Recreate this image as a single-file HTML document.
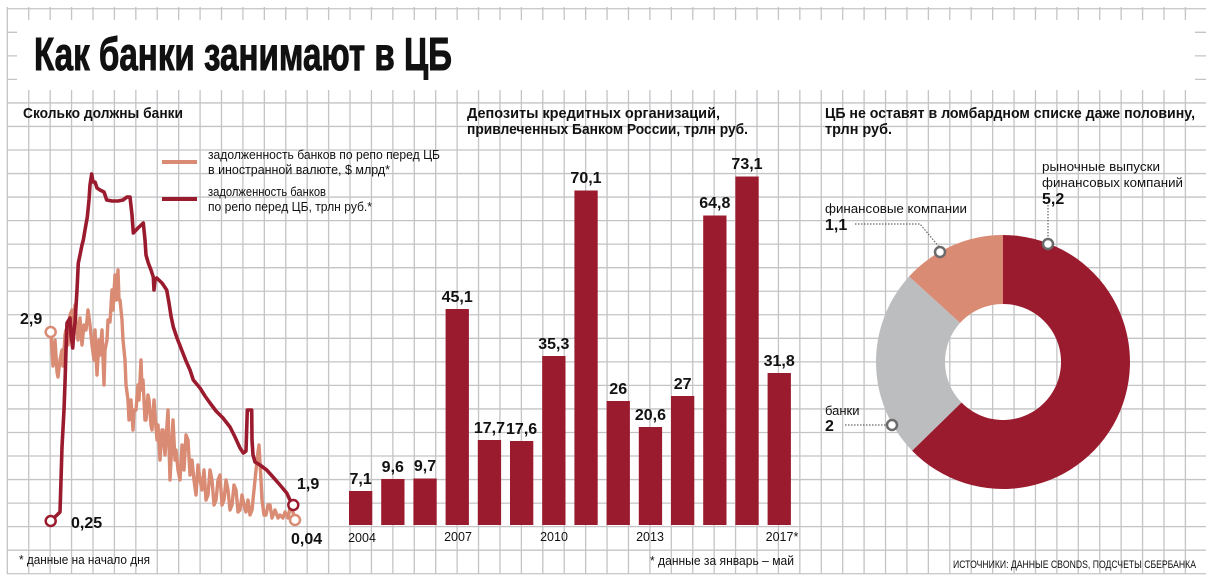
<!DOCTYPE html>
<html><head><meta charset="utf-8"><style>
html,body{margin:0;padding:0;background:#fff;}
svg{display:block;}
text{font-family:"Liberation Sans Narrow","Liberation Sans",sans-serif;fill:#111;}
.b{font-weight:bold;}
</style></head><body>
<svg width="1214" height="584" viewBox="0 0 1214 584" xmlns="http://www.w3.org/2000/svg">
<g stroke="#c4c4c6" stroke-width="1.3" id="grid"></g>
<script>
(function(){
var ns="http://www.w3.org/2000/svg",g=document.getElementById('grid');
for(var k=0;k<=56;k++){var x=7.3+21.42*k;if(x>1206)break;var l=document.createElementNS(ns,'line');l.setAttribute('x1',x);l.setAttribute('x2',x);l.setAttribute('y1',7);l.setAttribute('y2',574);g.appendChild(l);}
for(var k=-6;k<=18;k++){var y=150+23.54*k;if(y<6||y>575)continue;var l=document.createElementNS(ns,'line');l.setAttribute('x1',7);l.setAttribute('x2',1206);l.setAttribute('y1',y);l.setAttribute('y2',y);g.appendChild(l);}
})();
</script>
<rect x="17" y="20" width="1178" height="70" fill="#fff"/>
<text x="34" y="70" class="b" font-size="46" textLength="418" lengthAdjust="spacingAndGlyphs" stroke="#111" stroke-width="1">Как банки занимают в ЦБ</text>

<!-- section titles -->
<text x="23" y="118" class="b" font-size="15" textLength="160" lengthAdjust="spacingAndGlyphs">Сколько должны банки</text>
<text x="467" y="118" class="b" font-size="15" textLength="253" lengthAdjust="spacingAndGlyphs">Депозиты кредитных организаций,</text>
<text x="467" y="134" class="b" font-size="15" textLength="281" lengthAdjust="spacingAndGlyphs">привлеченных Банком России, трлн руб.</text>
<text x="825" y="118" class="b" font-size="15" textLength="370" lengthAdjust="spacingAndGlyphs">ЦБ не оставят в ломбардном списке даже половину,</text>
<text x="825" y="134" class="b" font-size="15" textLength="67" lengthAdjust="spacingAndGlyphs">трлн руб.</text>

<!-- legend -->
<line x1="162" y1="162" x2="197" y2="162" stroke="#d98b74" stroke-width="4"/>
<text x="208" y="159" font-size="12.5" textLength="232" lengthAdjust="spacingAndGlyphs">задолженность банков по репо перед ЦБ</text>
<text x="208" y="174" font-size="12.5" textLength="182" lengthAdjust="spacingAndGlyphs">в иностранной валюте, $ млрд*</text>
<line x1="162" y1="199" x2="197" y2="199" stroke="#9b1b2e" stroke-width="4"/>
<text x="208" y="196" font-size="12.5" textLength="118" lengthAdjust="spacingAndGlyphs">задолженность банков</text>
<text x="208" y="211" font-size="12.5" textLength="164" lengthAdjust="spacingAndGlyphs">по репо перед ЦБ, трлн руб.*</text>

<!-- salmon line -->
<polyline fill="none" stroke="#d98b74" stroke-width="3.4" stroke-linejoin="round" points="50.7,332 52,350 53,366 55,340 57,372 58,377 60,360 62,350 63,366 65,335 66,330 68,345 70,315 72,310 73,330 75,305 76,320 78,340 80,318 82,345 84,325 86,330 88,310 90,325 92,345 94,360 95,330 97,375 99,340 100,355 102,330 104,385 105,350 107,340 108,320 110,322 112,290 113,310 115,275 116,300 118,270 119,300 120,300 122,320 123,340 125,360 126,385 128,400 129,420 131,400 133,430 134,410 136,410 138,385 139,400 141,360 142,390 143,380 145,420 146,420 148,395 149,400 151,425 152,430 154,400 155,415 157,440 158,425 160,460 162,430 163,430 165,455 166,440 168,410 170,480 172,440 173,420 175,460 176,450 178,470 180,480 182,445 184,470 186,435 188,440 190,475 192,460 194,480 196,495 198,465 200,480 202,490 204,470 206,500 208,495 210,470 212,480 214,505 216,500 218,480 220,475 222,505 224,500 226,480 228,490 230,510 232,505 234,485 236,490 238,512 240,510 242,495 244,505 246,512 248,500 250,515 252,510 254,490 256,470 258,452 259,445 261,480 262,500 264,515 266,515 268,505 270,505 272,518 275,510 278,518 280,515 283,518 285,512 288,518 290,508 293,512 295,520"/>
<!-- dark line -->
<polyline fill="none" stroke="#9b1b2e" stroke-width="3.6" stroke-linejoin="round" points="50.7,521 57,515 60,512 61,480 62,447 64,410 65,383 66,350 67,323 70,318 71,335 72.7,348 74,330 75,323 77,290 78.3,263 80,255 82,245 83.3,240 85,230 87.3,217 89,200 90,185 91.7,174 93,182 95,182 97,188 100,190 104,192 106.7,200 112,201 118,201 123,200 127,197 130,197 132,215 133.3,233 138,228 143.3,223 145,240 146,255 148.3,263 151,270 153.3,277 154,290 155,280 156.7,278 162,283 166.7,290 169,303 171,316 173.3,327 177,338 181.7,350 186,361 190,370 193.3,380 200,388 205,396 210,403 216,411 223,418 230,427 235,437 240,448 243.3,453 246,451 247.3,410 250,410 251.7,410 252,440 253,455 255,462 260,465 266.7,470 273,477 280,485 286.7,493 290,500 293.3,505"/>
<circle cx="50.7" cy="521" r="5" fill="#fff" stroke="#9b1b2e" stroke-width="2.5"/>
<circle cx="293.3" cy="505" r="5" fill="#fff" stroke="#9b1b2e" stroke-width="2.5"/>
<circle cx="50.7" cy="332" r="5" fill="#fff" stroke="#d98b74" stroke-width="2.5"/>
<circle cx="295" cy="520" r="5" fill="#fff" stroke="#d98b74" stroke-width="2.5"/>
<text x="20" y="324" class="b" font-size="16">2,9</text>
<text x="71" y="528" class="b" font-size="16">0,25</text>
<text x="297" y="489" class="b" font-size="16">1,9</text>
<text x="291" y="544" class="b" font-size="16">0,04</text>
<text x="19" y="564" font-size="12.5" textLength="131" lengthAdjust="spacingAndGlyphs">* данные на начало дня</text>

<!-- bars -->
<g fill="#9b1b2e">
<rect x="349" y="491" width="23.3" height="34"/>
<rect x="381.2" y="479" width="23.3" height="46"/>
<rect x="413.4" y="478.5" width="23.3" height="46.5"/>
<rect x="445.6" y="309" width="23.3" height="216"/>
<rect x="477.8" y="440" width="23.3" height="85"/>
<rect x="510" y="441" width="23.3" height="84"/>
<rect x="542.2" y="356" width="23.3" height="169"/>
<rect x="574.4" y="190.5" width="23.3" height="334.5"/>
<rect x="606.6" y="401" width="23.3" height="124"/>
<rect x="638.8" y="427" width="23.3" height="98"/>
<rect x="671" y="396" width="23.3" height="129"/>
<rect x="703.2" y="215.5" width="23.3" height="309.5"/>
<rect x="735.4" y="176.5" width="23.3" height="348.5"/>
<rect x="767.6" y="373" width="23.3" height="152"/>
</g>
<g font-size="16" text-anchor="middle">
<text x="360.6" y="484" class="b">7,1</text>
<text x="392.8" y="472" class="b">9,6</text>
<text x="425" y="471" class="b">9,7</text>
<text x="457.2" y="302" class="b">45,1</text>
<text x="489.4" y="433" class="b">17,7</text>
<text x="521.6" y="434" class="b">17,6</text>
<text x="553.8" y="349" class="b">35,3</text>
<text x="586" y="183" class="b">70,1</text>
<text x="618.2" y="394" class="b">26</text>
<text x="650.4" y="420" class="b">20,6</text>
<text x="682.6" y="389" class="b">27</text>
<text x="714.8" y="208" class="b">64,8</text>
<text x="747" y="169" class="b">73,1</text>
<text x="779.2" y="366" class="b">31,8</text>
</g>
<g font-size="12.5" text-anchor="middle">
<text x="362" y="542">2004</text>
<text x="458" y="541">2007</text>
<text x="554" y="541">2010</text>
<text x="650" y="541">2013</text>
<text x="782" y="541">2017*</text>
</g>
<text x="650" y="565" font-size="12.5" textLength="144" lengthAdjust="spacingAndGlyphs">* данные за январь – май</text>

<!-- donut -->
<g transform="translate(1003,362)">
<path d="M0,-127 A127,127 0 1 1 -90.9,88.7 L-41.5,40.5 A58,58 0 1 0 0,-58 Z" fill="#9b1b2e"/>
<path d="M-90.9,88.7 A127,127 0 0 1 -93.9,-85.5 L-42.9,-39.1 A58,58 0 0 0 -41.5,40.5 Z" fill="#bcbdbf"/>
<path d="M-93.9,-85.5 A127,127 0 0 1 0,-127 L0,-58 A58,58 0 0 0 -42.9,-39.1 Z" fill="#d98b74"/>
</g>
<g stroke="#666" stroke-width="1.2" stroke-dasharray="1.5,1.5" fill="none">
<polyline points="855,224 920,224 940,248"/>
<line x1="1048" y1="205" x2="1048" y2="240"/>
<line x1="845" y1="425" x2="888" y2="425"/>
</g>
<g fill="#fff" stroke="#6b6b6b" stroke-width="2.5">
<circle cx="940" cy="252" r="5"/>
<circle cx="1048" cy="244" r="5"/>
<circle cx="892" cy="425" r="5"/>
</g>
<text x="825" y="213" font-size="13" textLength="142" lengthAdjust="spacingAndGlyphs">финансовые компании</text>
<text x="825" y="230" class="b" font-size="16">1,1</text>
<text x="1042" y="171" font-size="13" textLength="118" lengthAdjust="spacingAndGlyphs">рыночные выпуски</text>
<text x="1042" y="187" font-size="13" textLength="141" lengthAdjust="spacingAndGlyphs">финансовых компаний</text>
<text x="1042" y="204" class="b" font-size="16">5,2</text>
<text x="825" y="415" font-size="13">банки</text>
<text x="825" y="431" class="b" font-size="16">2</text>
<text x="1196" y="568" font-size="11" text-anchor="end" textLength="243" lengthAdjust="spacingAndGlyphs">ИСТОЧНИКИ: ДАННЫЕ CBONDS, ПОДСЧЕТЫ СБЕРБАНКА</text>
</svg>
</body></html>
